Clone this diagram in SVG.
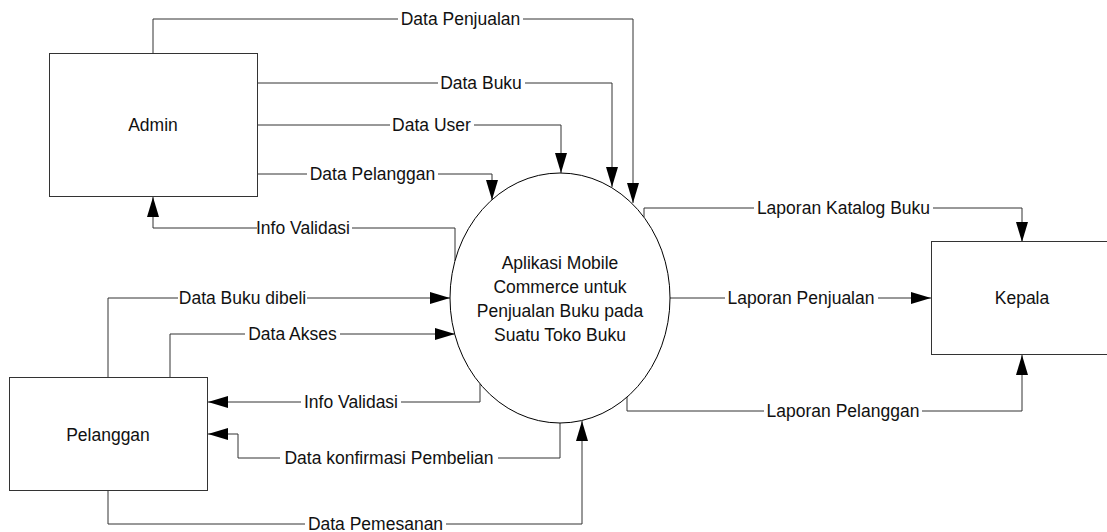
<svg xmlns="http://www.w3.org/2000/svg" width="1107" height="532" viewBox="0 0 1107 532">
  <defs>
    <style>
      text { font-family: "Liberation Sans", Arial, sans-serif; font-size: 17.5px; fill: #111; }
      .node { fill: #fff; stroke: #333; stroke-width: 1; }
      .flow { fill: none; stroke: #333; stroke-width: 1; }
      .mask { fill: #fff; stroke: none; }
      .mid { text-anchor: middle; }
    </style>
    <marker id="arrow" viewBox="0 0 20 12" refX="20" refY="6" markerWidth="20" markerHeight="12" markerUnits="userSpaceOnUse" orient="auto">
      <path d="M0,0 L20,6 L0,12 z" fill="#000"/>
    </marker>
  </defs>
  <rect width="1107" height="532" fill="#fff"/>

  <!-- data flows -->
  <g id="connectors">
    <path class="flow" d="M153,53 V19 H633 V203" marker-end="url(#arrow)"/>
    <path class="flow" d="M258,83 H612 V187" marker-end="url(#arrow)"/>
    <path class="flow" d="M258,125 H561 V173" marker-end="url(#arrow)"/>
    <path class="flow" d="M258,174 H492 V200" marker-end="url(#arrow)"/>
    <path class="flow" d="M455,261 V228 H153 V197" marker-end="url(#arrow)"/>
    <path class="flow" d="M644,217 V208 H1022 V242" marker-end="url(#arrow)"/>
    <path class="flow" d="M670,298 H931" marker-end="url(#arrow)"/>
    <path class="flow" d="M627,397 V411 H1022 V355" marker-end="url(#arrow)"/>
    <path class="flow" d="M108,378 V298 H450" marker-end="url(#arrow)"/>
    <path class="flow" d="M170,378 V334 H455" marker-end="url(#arrow)"/>
    <path class="flow" d="M480,384 V402 H208" marker-end="url(#arrow)"/>
    <path class="flow" d="M560,423 V458 H238 V434 H208" marker-end="url(#arrow)"/>
    <path class="flow" d="M108,491 V524 H582 V421" marker-end="url(#arrow)"/>

    <!-- flow labels -->
    <rect class="mask" x="398" y="10" width="125" height="18"/>
    <text class="mid" x="460.5" y="25">Data Penjualan</text>
    <rect class="mask" x="438" y="74" width="87" height="18"/>
    <text class="mid" x="481" y="89">Data Buku</text>
    <rect class="mask" x="390" y="116" width="84" height="18"/>
    <text class="mid" x="431.5" y="131">Data User</text>
    <rect class="mask" x="307" y="165" width="131" height="18"/>
    <text class="mid" x="372.5" y="180">Data Pelanggan</text>
    <rect class="mask" x="257" y="219" width="95" height="18"/>
    <text class="mid" x="303" y="234">Info Validasi</text>
    <rect class="mask" x="754" y="199" width="179" height="18"/>
    <text class="mid" x="843.5" y="214">Laporan Katalog Buku</text>
    <rect class="mask" x="725" y="289" width="153" height="18"/>
    <text class="mid" x="801" y="304">Laporan Penjualan</text>
    <rect class="mask" x="764" y="402" width="158" height="18"/>
    <text class="mid" x="843" y="417">Laporan Pelanggan</text>
    <rect class="mask" x="178" y="289" width="129" height="18"/>
    <text class="mid" x="242.5" y="304">Data Buku dibeli</text>
    <rect class="mask" x="245" y="325" width="95" height="18"/>
    <text class="mid" x="292.5" y="340">Data Akses</text>
    <rect class="mask" x="301" y="393" width="100" height="18"/>
    <text class="mid" x="351" y="408">Info Validasi</text>
    <rect class="mask" x="280" y="449" width="218" height="18"/>
    <text class="mid" x="389" y="464">Data konfirmasi Pembelian</text>
    <rect class="mask" x="305" y="515" width="141" height="17"/>
    <text class="mid" x="375.5" y="529.5">Data Pemesanan</text>
  </g>

  <!-- external entity: Admin -->
  <g id="admin">
    <rect class="node" x="49.5" y="53.5" width="208" height="143"/>
    <text class="mid" x="153" y="131">Admin</text>
  </g>

  <!-- external entity: Pelanggan -->
  <g id="pelanggan">
    <rect class="node" x="9.5" y="377.5" width="198" height="113"/>
    <text class="mid" x="108" y="441">Pelanggan</text>
  </g>

  <!-- external entity: Kepala -->
  <g id="kepala">
    <rect class="node" x="931.5" y="241.5" width="190" height="113"/>
    <text class="mid" x="1022" y="304">Kepala</text>
  </g>

  <!-- process -->
  <g id="process">
    <ellipse cx="560" cy="298" rx="110" ry="125" fill="#fff" stroke="#000" stroke-width="1"/>
    <text class="mid" x="560" y="269">Aplikasi Mobile</text>
    <text class="mid" x="560" y="293">Commerce untuk</text>
    <text class="mid" x="560" y="317">Penjualan Buku pada</text>
    <text class="mid" x="560" y="341">Suatu Toko Buku</text>
  </g>
</svg>
